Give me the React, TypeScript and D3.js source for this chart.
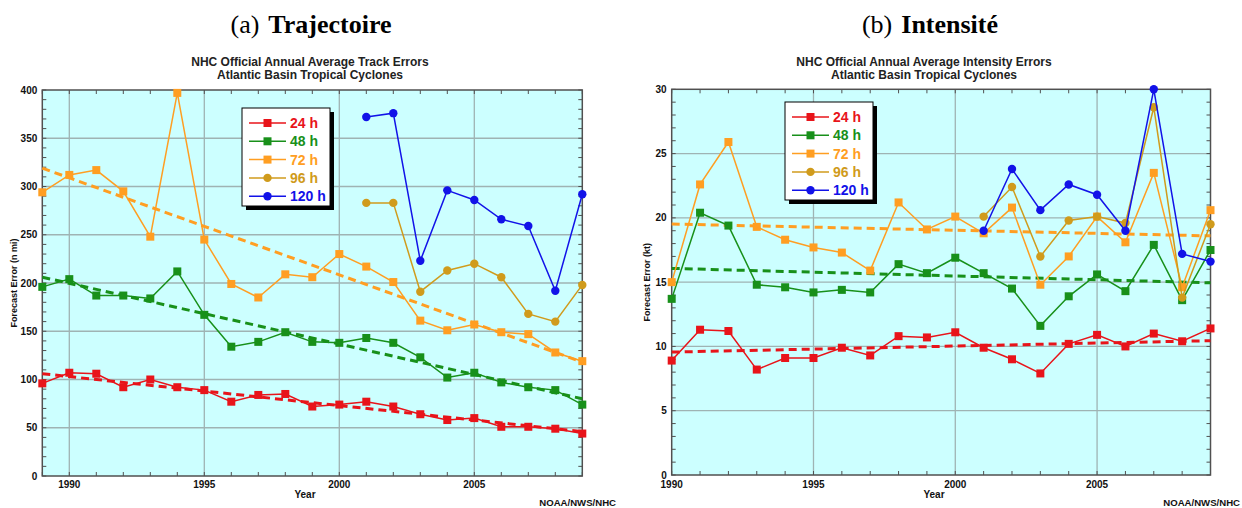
import * as d3 from 'd3';

// ---- Track errors (n mi), Atlantic basin
const trackYears = [1989, 1990, 1991, 1992, 1993, 1994, 1995, 1996, 1997, 1998, 1999, 2000, 2001, 2002, 2003, 2004, 2005, 2006, 2007, 2008, 2009];
const track24 = [96, 107, 106, 92, 100, 92, 89, 77, 84, 85, 72, 74, 77, 72, 64, 58, 60, 51, 51, 49, 44];
const track48 = [196, 204, 187, 187, 184, 212, 167, 134, 139, 149, 139, 138, 143, 138, 123, 102, 107, 97, 92, 89, 74];
const track72 = [294, 312, 317, 295, 248, 397, 245, 199, 185, 209, 206, 230, 217, 201, 161, 151, 157, 149, 147, 128, 119];
const trackLongYears = [2001, 2002, 2003, 2004, 2005, 2006, 2007, 2008, 2009];
const track96 = [283, 283, 191, 213, 220, 206, 168, 160, 198];
const track120 = [372, 376, 223, 296, 286, 266, 259, 192, 292];
// trend line end points (first year, last year)
const track24Trend = [106, 46];
const track48Trend = [206, 80];
const track72Trend = [319, 118];
const trackYTicks = [0, 50, 100, 150, 200, 250, 300, 350, 400];

// ---- Intensity errors (kt)
const intYears = [1990, 1991, 1992, 1993, 1994, 1995, 1996, 1997, 1998, 1999, 2000, 2001, 2002, 2003, 2004, 2005, 2006, 2007, 2008, 2009];
const int24 = [8.9, 11.3, 11.2, 8.2, 9.1, 9.1, 9.9, 9.3, 10.8, 10.7, 11.1, 9.9, 9.0, 7.9, 10.2, 10.9, 10.0, 11.0, 10.4, 11.4];
const int48 = [13.7, 20.4, 19.4, 14.8, 14.6, 14.2, 14.4, 14.2, 16.4, 15.7, 16.9, 15.7, 14.5, 11.6, 13.9, 15.6, 14.3, 17.9, 13.6, 17.5];
const int72 = [15.0, 22.6, 25.9, 19.3, 18.3, 17.7, 17.3, 15.9, 21.2, 19.1, 20.1, 18.8, 20.8, 14.8, 17.0, 20.1, 18.1, 23.5, 14.6, 20.6];
const intLongYears = [2001, 2002, 2003, 2004, 2005, 2006, 2007, 2008, 2009];
const int96 = [20.1, 22.4, 17.0, 19.8, 20.1, 19.6, 28.6, 13.8, 19.5];
const int120 = [19.0, 23.8, 20.6, 22.6, 21.8, 19.0, 30.0, 17.2, 16.6];
const int24Trend = [9.56, 10.45];
const int48Trend = [16.07, 14.95];
const int72Trend = [19.52, 18.6];
const intYTicks = [0, 5, 10, 15, 20, 25, 30];

const xLabelYears = [1990, 1995, 2000, 2005];
const legendLabels = ['24 h', '48 h', '72 h', '96 h', '120 h'];

const C24 = '#e8141a';
const C48 = '#18901a';
const C72 = '#ff9e22';
const C96 = '#d09b1c';
const C120 = '#1212e8';
const colors = [C24, C48, C72, C96, C120];
const markers = ['square', 'square', 'square', 'circle', 'circle'];

const SANS = '"Liberation Sans", Arial, Helvetica, sans-serif';
const SERIF = '"Liberation Serif", "Times New Roman", serif';

type Series = { years: number[]; values: number[]; color: string; marker: string };
type Trend = { ends: number[]; color: string };

type PanelProps = {
  left: number; right: number; top: number; bottom: number;
  xDomain: [number, number]; yDomain: [number, number];
  yTicks: number[]; yMinorStep: number;
  series: Series[]; trends: Trend[];
  caption: [string, string]; captionX: number;
  title1: string; title2: string; titleX: number;
  yLabel: string; yLabelX: number;
  legendX: number; legendY: number;
  yearLabelX: number; creditEndX: number;
};

function Marker({ x, y, shape, color }: { x: number; y: number; shape: string; color: string }) {
  if (shape === 'circle') return <circle cx={x} cy={y} r={4.2} fill={color} />;
  return <rect x={x - 4} y={y - 4} width={8} height={8} fill={color} />;
}

function Panel(p: PanelProps) {
  const x = d3.scaleLinear().domain(p.xDomain).range([p.left, p.right]);
  const y = d3.scaleLinear().domain(p.yDomain).range([p.bottom, p.top]);
  const allYears = d3.range(p.xDomain[0], p.xDomain[1] + 1);
  const minorY = d3.range(p.yDomain[0], p.yDomain[1] + 1e-9, p.yMinorStep);
  const line = d3.line<[number, number]>().x(d => x(d[0])).y(d => y(d[1]));
  const grid = '#9fb3b3';
  const frame = '#505050';

  return (
    <g>
      <text x={p.captionX} y={33} textAnchor="middle" fontFamily={SERIF} fontSize={26} fill="#000">
        <tspan>{p.caption[0]}</tspan>
        <tspan dx={9} fontWeight="bold">{p.caption[1]}</tspan>
      </text>
      <text x={p.titleX} y={66} textAnchor="middle" fontFamily={SANS} fontSize={12} fontWeight="bold" fill="#222">{p.title1}</text>
      <text x={p.titleX} y={79} textAnchor="middle" fontFamily={SANS} fontSize={12} fontWeight="bold" fill="#222">{p.title2}</text>

      <rect x={p.left} y={p.top} width={p.right - p.left} height={p.bottom - p.top} fill="#ccffff" />
      {p.yTicks.filter(t => t > p.yDomain[0] && t < p.yDomain[1]).map(t => (
        <line key={'gy' + t} x1={p.left} x2={p.right} y1={y(t)} y2={y(t)} stroke={grid} strokeWidth={1.3} />
      ))}
      {xLabelYears.filter(t => t > p.xDomain[0] && t < p.xDomain[1]).map(t => (
        <line key={'gx' + t} x1={x(t)} x2={x(t)} y1={p.top} y2={p.bottom} stroke={grid} strokeWidth={1.3} />
      ))}
      {minorY.map(t => (
        <g key={'my' + t}>
          <line x1={p.left} x2={p.left + 4} y1={y(t)} y2={y(t)} stroke={frame} strokeWidth={1} />
          <line x1={p.right} x2={p.right - 4} y1={y(t)} y2={y(t)} stroke={frame} strokeWidth={1} />
        </g>
      ))}
      {allYears.map(t => (
        <g key={'mx' + t}>
          <line x1={x(t)} x2={x(t)} y1={p.bottom} y2={p.bottom - 4} stroke={frame} strokeWidth={1} />
          <line x1={x(t)} x2={x(t)} y1={p.top} y2={p.top + 4} stroke={frame} strokeWidth={1} />
        </g>
      ))}
      <rect x={p.left} y={p.top} width={p.right - p.left} height={p.bottom - p.top} fill="none" stroke={frame} strokeWidth={1.5} />

      {p.yTicks.map(t => (
        <text key={'ly' + t} x={p.left - 5} y={y(t) + 3.5} textAnchor="end" fontFamily={SANS} fontSize={10} fontWeight="bold" fill="#111">{t}</text>
      ))}
      {xLabelYears.map(t => (
        <text key={'lx' + t} x={x(t)} y={488} textAnchor="middle" fontFamily={SANS} fontSize={10} fontWeight="bold" fill="#111">{t}</text>
      ))}
      <text x={p.yearLabelX} y={498} textAnchor="middle" fontFamily={SANS} fontSize={10} fontWeight="bold" fill="#111">Year</text>
      <text x={p.creditEndX} y={506} textAnchor="end" fontFamily={SANS} fontSize={9.6} fontWeight="bold" fill="#111">NOAA/NWS/NHC</text>
      <text transform={`translate(${p.yLabelX},${(p.top + p.bottom) / 2}) rotate(-90)`} textAnchor="middle" fontFamily={SANS} fontSize={9} fontWeight="bold" fill="#111">{p.yLabel}</text>

      {p.trends.map((t, i) => (
        <path key={'tr' + i} d={line([[p.xDomain[0], t.ends[0]], [p.xDomain[1], t.ends[1]]]) || ''} fill="none" stroke={t.color} strokeWidth={3} strokeDasharray="8,5" />
      ))}
      {p.series.map((s, i) => (
        <g key={'s' + i}>
          <path d={line(s.years.map((yr, j) => [yr, s.values[j]] as [number, number])) || ''} fill="none" stroke={s.color} strokeWidth={1.5} />
          {s.years.map((yr, j) => (
            <Marker key={j} x={x(yr)} y={y(s.values[j])} shape={s.marker} color={s.color} />
          ))}
        </g>
      ))}

      <g transform={`translate(${p.legendX},${p.legendY})`}>
        <rect x={4} y={4} width={88} height={98} fill="#000" />
        <rect x={0} y={0} width={88} height={98} fill="#fff" stroke="#000" strokeWidth={1} />
        {legendLabels.map((lab, i) => (
          <g key={lab} transform={`translate(0,${15 + i * 18.3})`}>
            <line x1={7} x2={44} y1={0} y2={0} stroke={colors[i]} strokeWidth={1.5} />
            <Marker x={25.5} y={0} shape={markers[i]} color={colors[i]} />
            <text x={48} y={5} fontFamily={SANS} fontSize={14} fontWeight="bold" fill={colors[i]}>{lab}</text>
          </g>
        ))}
      </g>
    </g>
  );
}

export default function App() {
  const trackSeries: Series[] = [
    { years: trackYears, values: track24, color: C24, marker: 'square' },
    { years: trackYears, values: track48, color: C48, marker: 'square' },
    { years: trackYears, values: track72, color: C72, marker: 'square' },
    { years: trackLongYears, values: track96, color: C96, marker: 'circle' },
    { years: trackLongYears, values: track120, color: C120, marker: 'circle' },
  ];
  const intSeries: Series[] = [
    { years: intYears, values: int24, color: C24, marker: 'square' },
    { years: intYears, values: int48, color: C48, marker: 'square' },
    { years: intYears, values: int72, color: C72, marker: 'square' },
    { years: intLongYears, values: int96, color: C96, marker: 'circle' },
    { years: intLongYears, values: int120, color: C120, marker: 'circle' },
  ];
  return (
    <svg width={1242} height={508} style={{ position: 'absolute', left: 0, top: 0, background: '#fff' }}>
      <rect width={1242} height={508} fill="#fff" />
      <Panel
        left={42.3} right={582.3} top={90} bottom={476}
        xDomain={[1989, 2009]} yDomain={[0, 400]}
        yTicks={trackYTicks} yMinorStep={10}
        series={trackSeries}
        trends={[{ ends: track24Trend, color: C24 }, { ends: track48Trend, color: C48 }, { ends: track72Trend, color: C72 }]}
        caption={['(a)', 'Trajectoire']} captionX={311}
        title1="NHC Official Annual Average Track Errors" title2="Atlantic Basin Tropical Cyclones" titleX={310}
        yLabel="Forecast Error (n mi)" yLabelX={17}
        legendX={242} legendY={108}
        yearLabelX={305} creditEndX={616}
      />
      <Panel
        left={671.7} right={1210.5} top={89.3} bottom={475}
        xDomain={[1990, 2009]} yDomain={[0, 30]}
        yTicks={intYTicks} yMinorStep={1}
        series={intSeries}
        trends={[{ ends: int24Trend, color: C24 }, { ends: int48Trend, color: C48 }, { ends: int72Trend, color: C72 }]}
        caption={['(b)', 'Intensité']} captionX={930}
        title1="NHC Official Annual Average Intensity Errors" title2="Atlantic Basin Tropical Cyclones" titleX={924}
        yLabel="Forecast Error (kt)" yLabelX={650}
        legendX={785} legendY={102}
        yearLabelX={934} creditEndX={1240}
      />
    </svg>
  );
}
